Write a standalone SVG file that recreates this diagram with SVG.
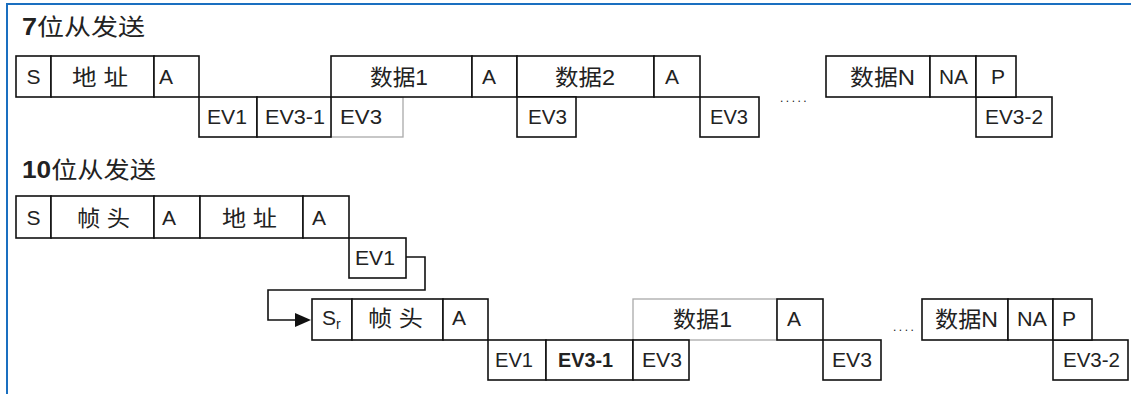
<svg xmlns="http://www.w3.org/2000/svg" width="1131" height="394" viewBox="0 0 1131 394">
<style>
  .b{fill:#fff;stroke:#111;stroke-width:1.6}
  .g{fill:#fff;stroke:#aaa;stroke-width:1.3}
  .k{fill:none;stroke:#111;stroke-width:1.6}
  text{font-family:"Liberation Sans","Noto Sans CJK SC",sans-serif;fill:#222;font-size:21px}
  .t{font-size:23px}
  .c{font-size:22px}
  .m{text-anchor:middle}
  .d{font-size:12px;letter-spacing:2.5px}
</style>
<defs>
  <marker id="arr" markerWidth="18" markerHeight="16" refX="1" refY="8" orient="auto" markerUnits="userSpaceOnUse">
    <path d="M1,1 L17,8 L1,15 Z" fill="#111"/>
  </marker>
</defs>
<rect x="0" y="0" width="1131" height="394" fill="#fff"/>
<g id="frame"><path d="M7,394 V4 H1131" fill="none" stroke="#1a6fc0" stroke-width="2"/></g>

<g id="title7"><text class="t" x="22" y="35" textLength="123" lengthAdjust="spacingAndGlyphs"><tspan font-weight="bold">7</tspan>位从发送</text></g>

<!-- row 1 gray box first -->
<g id="r1-ev3a"><rect class="g" x="331" y="97" width="72" height="40"/><text x="340" y="124" textLength="42" lengthAdjust="spacingAndGlyphs">EV3</text></g>
<g id="r1-s"><rect class="b" x="16" y="56" width="35" height="41"/><text class="m" x="33.5" y="84">S</text></g>
<g id="r1-addr"><rect class="b" x="51" y="56" width="103" height="41"/><text class="c" x="72" y="85" textLength="56" lengthAdjust="spacingAndGlyphs">地 址</text></g>
<g id="r1-a1"><rect class="b" x="154" y="56" width="45" height="41"/><text x="159" y="84">A</text></g>
<g id="r1-ev1"><rect class="b" x="199" y="97" width="58" height="40"/><text x="207" y="124" textLength="40" lengthAdjust="spacingAndGlyphs">EV1</text></g>
<g id="r1-ev31"><rect class="b" x="257" y="97" width="74" height="40"/><text x="265" y="124" textLength="60" lengthAdjust="spacingAndGlyphs">EV3-1</text></g>
<g id="r1-data1"><rect class="b" x="331" y="56" width="141" height="41"/><text class="c" x="370" y="85" textLength="58" lengthAdjust="spacingAndGlyphs">数据1</text></g>
<g id="r1-a2"><rect class="b" x="472" y="56" width="45" height="41"/><text x="482" y="84">A</text></g>
<g id="r1-data2"><rect class="b" x="517" y="56" width="137" height="41"/><text class="c" x="555" y="85" textLength="60" lengthAdjust="spacingAndGlyphs">数据2</text></g>
<g id="r1-ev3b"><rect class="b" x="517" y="97" width="59" height="40"/><text x="528" y="124" textLength="39" lengthAdjust="spacingAndGlyphs">EV3</text></g>
<g id="r1-a3"><rect class="b" x="654" y="56" width="46" height="41"/><text x="665" y="84">A</text></g>
<g id="r1-ev3c"><rect class="b" x="700" y="97" width="59" height="40"/><text x="710" y="124" textLength="38" lengthAdjust="spacingAndGlyphs">EV3</text></g>
<g id="r1-dots"><text class="d" x="780" y="102">.....</text></g>
<g id="r1-dataN"><rect class="b" x="826" y="56" width="104" height="41"/><text class="c" x="850" y="85" textLength="65" lengthAdjust="spacingAndGlyphs">数据N</text></g>
<g id="r1-na"><rect class="b" x="930" y="56" width="46" height="41"/><text x="939" y="84" textLength="29" lengthAdjust="spacingAndGlyphs">NA</text></g>
<g id="r1-ev32"><rect class="b" x="976" y="97" width="76" height="40"/><text x="985" y="124" textLength="58" lengthAdjust="spacingAndGlyphs">EV3-2</text></g>
<g id="r1-p"><rect class="b" x="976" y="56" width="40" height="41"/><text x="991" y="84">P</text></g>

<g id="title10"><text class="t" x="22" y="178" textLength="134" lengthAdjust="spacingAndGlyphs"><tspan font-weight="bold">10</tspan>位从发送</text></g>

<g id="r2-s"><rect class="b" x="16" y="196" width="35" height="42"/><text class="m" x="33.5" y="225">S</text></g>
<g id="r2-head"><rect class="b" x="51" y="196" width="103" height="42"/><text class="c" x="77" y="226" textLength="53" lengthAdjust="spacingAndGlyphs">帧 头</text></g>
<g id="r2-a1"><rect class="b" x="154" y="196" width="46" height="42"/><text x="162" y="225">A</text></g>
<g id="r2-addr"><rect class="b" x="200" y="196" width="103" height="42"/><text class="c" x="222" y="226" textLength="55" lengthAdjust="spacingAndGlyphs">地 址</text></g>
<g id="r2-a2"><rect class="b" x="303" y="196" width="46" height="42"/><text x="312" y="225">A</text></g>
<g id="r2-ev1a"><rect class="b" x="349" y="238" width="57" height="40"/><text x="355" y="265" textLength="40" lengthAdjust="spacingAndGlyphs">EV1</text></g>

<g id="connectors"><polyline class="k" points="406,257 425,257 425,290 268,290 268,320 295,320" marker-end="url(#arr)"/></g>

<!-- restart row: gray box first -->
<g id="r3-data1"><rect class="g" x="633" y="299" width="144" height="41"/><text class="c" x="673" y="327" textLength="59" lengthAdjust="spacingAndGlyphs">数据1</text></g>
<g id="r3-sr"><rect class="b" x="312" y="299" width="40" height="41"/><text x="322" y="325">S<tspan font-size="14" dy="4">r</tspan></text></g>
<g id="r3-head"><rect class="b" x="352" y="299" width="91" height="41"/><text class="c" x="368" y="326" textLength="55" lengthAdjust="spacingAndGlyphs">帧 头</text></g>
<g id="r3-a1"><rect class="b" x="443" y="299" width="45" height="41"/><text x="452" y="325">A</text></g>
<g id="r3-ev1"><rect class="b" x="488" y="340" width="58" height="40"/><text x="495" y="367" textLength="38" lengthAdjust="spacingAndGlyphs">EV1</text></g>
<g id="r3-ev31"><rect class="b" x="546" y="340" width="87" height="40"/><text x="558" y="367" font-weight="bold" fill="#111" textLength="55" lengthAdjust="spacingAndGlyphs">EV3-1</text></g>
<g id="r3-ev3a"><rect class="b" x="633" y="340" width="56" height="40"/><text x="642" y="367" textLength="40" lengthAdjust="spacingAndGlyphs">EV3</text></g>
<g id="r3-a2"><rect class="b" x="777" y="299" width="46" height="41"/><text x="787" y="326">A</text></g>
<g id="r3-ev3b"><rect class="b" x="823" y="340" width="58" height="40"/><text x="832" y="367" textLength="40" lengthAdjust="spacingAndGlyphs">EV3</text></g>
<g id="r3-dots"><text class="d" x="893" y="331">....</text></g>
<g id="r3-dataN"><rect class="b" x="922" y="299" width="86" height="41"/><text class="c" x="935" y="327" textLength="63" lengthAdjust="spacingAndGlyphs">数据N</text></g>
<g id="r3-na"><rect class="b" x="1008" y="299" width="45" height="41"/><text x="1017" y="326" textLength="30" lengthAdjust="spacingAndGlyphs">NA</text></g>
<g id="r3-ev32"><rect class="b" x="1053" y="340" width="75" height="40"/><text x="1063" y="367" textLength="57" lengthAdjust="spacingAndGlyphs">EV3-2</text></g>
<g id="r3-p"><rect class="b" x="1053" y="299" width="39" height="41"/><text x="1062" y="326">P</text></g>
</svg>
